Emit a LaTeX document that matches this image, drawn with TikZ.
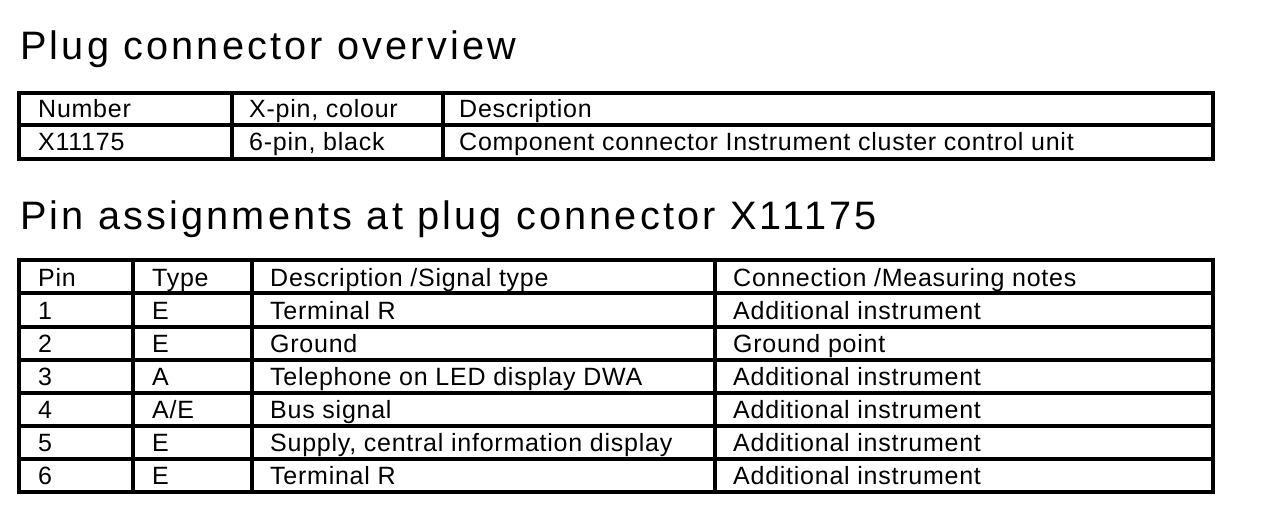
\documentclass[tikz,border=0pt]{standalone}
\usepackage{fontspec}
\setmainfont{Liberation Sans}
\newfontfamily\titlefont[LetterSpace=8]{Liberation Sans}
\newfontfamily\cellfont[LetterSpace=3]{Liberation Sans}
\begin{document}
\begin{tikzpicture}[x=1pt,y=-1pt,
  grid/.style={line width=4.5pt,line cap=rect},
  titletext/.style={anchor=base west,inner sep=0pt,font=\titlefont\fontsize{39.7}{44}\selectfont},
  cell/.style={anchor=base west,inner sep=0pt,font=\cellfont\fontsize{25}{28}\selectfont}]
\useasboundingbox[fill=white] (0,0) rectangle (1264,516);
% titles
\node[titletext] (t1) at (20,60) {Plug connector overview};
\node[titletext] (t2) at (20,229) {Pin assignments at plug connector X11175};
% table 1 grid
\draw[grid] (19,93) rectangle (1213,159);
\draw[grid] (19,125) -- (1213,125);
\draw[grid] (232,93) -- (232,159);
\draw[grid] (443,93) -- (443,159);
% table 1 text
\node[cell] (a11) at (38,118) {Number};
\node[cell] (a12) at (249,118) {X-pin, colour};
\node[cell] (a13) at (459,118) {Description};
\node[cell] (a21) at (38,151) {X11175};
\node[cell] (a22) at (249,151) {6-pin, black};
\node[cell] (a23) at (459,151) {Component connector Instrument cluster control unit};
% table 2 grid
\draw[grid] (19,260) rectangle (1213,492);
\foreach \yy in {293,327,360,393,426,459} \draw[grid] (19,\yy) -- (1213,\yy);
\foreach \xx in {133,252,715} \draw[grid] (\xx,260) -- (\xx,492);
% table 2 text
\node[cell] (h1) at (38,286) {Pin};
\node[cell] (h2) at (152,286) {Type};
\node[cell] (h3) at (270,286) {Description /Signal type};
\node[cell] (h4) at (733,286) {Connection /Measuring notes};
\node[cell] (p1) at (38,319) {1};
\node[cell] (y1) at (152,319) {E};
\node[cell] (d1) at (270,319) {Terminal R};
\node[cell] (c1) at (733,319) {Additional instrument};
\node[cell] (p2) at (38,352) {2};
\node[cell] (y2) at (152,352) {E};
\node[cell] (d2) at (270,352) {Ground};
\node[cell] (c2) at (733,352) {Ground point};
\node[cell] (p3) at (38,385) {3};
\node[cell] (y3) at (152,385) {A};
\node[cell] (d3) at (270,385) {Telephone on LED display DWA};
\node[cell] (c3) at (733,385) {Additional instrument};
\node[cell] (p4) at (38,418) {4};
\node[cell] (y4) at (152,418) {A/E};
\node[cell] (d4) at (270,418) {Bus signal};
\node[cell] (c4) at (733,418) {Additional instrument};
\node[cell] (p5) at (38,451) {5};
\node[cell] (y5) at (152,451) {E};
\node[cell] (d5) at (270,451) {Supply, central information display};
\node[cell] (c5) at (733,451) {Additional instrument};
\node[cell] (p6) at (38,484) {6};
\node[cell] (y6) at (152,484) {E};
\node[cell] (d6) at (270,484) {Terminal R};
\node[cell] (c6) at (733,484) {Additional instrument};
\end{tikzpicture}
\end{document}
